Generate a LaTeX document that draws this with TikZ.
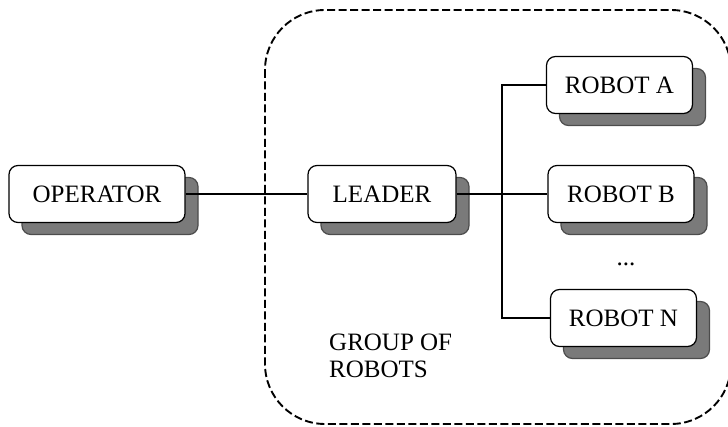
\documentclass[tikz,border=0pt]{standalone}
\usepackage{fontspec}
\setmainfont{Liberation Serif}
\usetikzlibrary{shadows}
\begin{document}
\begin{tikzpicture}[x=1pt,y=-1pt,
  box/.style={draw=black, line width=1.2pt, fill=white, rounded corners=9pt, inner sep=0pt,
    minimum height=57pt, font=\fontsize{25}{27}\selectfont,
    drop shadow={shadow xshift=13pt, shadow yshift=-12pt, fill=black!52, draw=black!70, opacity=1}},
  link/.style={line width=1.2pt},
  group/.style={dash pattern=on 8pt off 3.5pt, line width=1.9pt, rounded corners=60pt},
  lbl/.style={font=\fontsize{25}{27}\selectfont, inner sep=0pt, align=left}]
\useasboundingbox (0,0) rectangle (728,427);
\draw[group] (265,10) rectangle (731,424);
\coordinate (bus) at (502,0);
\node[box, minimum width=176pt] (op) at (97,194) {OPERATOR};
\node[box, minimum width=148pt] (leader) at (382,194) {LEADER};
\node[box, minimum width=146pt] (ra) at (619.5,85) {ROBOT A};
\node[box, minimum width=146pt] (rb) at (621,194) {ROBOT B};
\node[box, minimum width=146pt] (rn) at (623.5,318) {ROBOT N};
\node[lbl, anchor=base] (dots) at (626,266) {...};
\node[lbl, anchor=west] (grp) at (329,355.5) {GROUP OF\\ROBOTS};
\draw[link] (op.east) -- (leader.west);
\draw[link] (leader.east) -- (rb.west);
\draw[link] (ra.west) -- (ra.west -| bus) -- (rn.west -| bus) -- (rn.west);
\end{tikzpicture}
\end{document}
